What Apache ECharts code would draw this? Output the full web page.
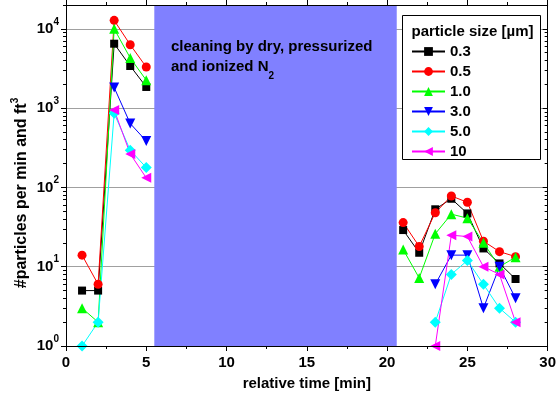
<!DOCTYPE html>
<html><head><meta charset="utf-8">
<script src="https://cdn.jsdelivr.net/npm/echarts@6/dist/echarts.min.js"></script>
<style>html,body{margin:0;padding:0;background:#fff}#c{width:559px;height:403px}</style>
</head><body><div id="c"></div>
<script>
// ---- data ----
const timesLeft = [1, 2, 3, 4, 5];
const timesRight = [21, 22, 23, 24, 25, 26, 27, 28];
const sizeNames = ['0.3', '0.5', '1.0', '3.0', '5.0', '10'];
const size03Left = [5, 5, 6500, 3400, 1850];
const size03Right = [29, 15, 53, 72, 47, 17, 11, 7];
const size05Left = [14, 6, 12800, 6300, 3300];
const size05Right = [36, 18, 48, 78, 65, 21, 15.5, 13.4];
const size10Left = [3, 2, 10000, 4300, 2250];
const size10Right = [16.5, 7.2, 26, 46, 41, 20, 10, 13.2];
const size30Left = [null, null, 1820, 640, 385];
const size30Right = [null, null, 6, 14, 14, 3, 10, 4];
const size50Left = [1, 2, 860, 295, 178];
const size50Right = [null, null, 2, 8, 12, 6, 3, 2];
const size100Left = [null, null, 950, 265, 132];
const size100Right = [null, null, 1, 25, 24, 10, 8, 2];
const cleaningWindow = [5.5, 20.6];
const xRange = [0, 30];
const xInterval = 5;
const yRange = [1, 20000];
const yMajorTicks = [1, 10, 100, 1000, 10000];
const yMinorFactors = [2, 3, 4, 5, 6, 7, 8, 9];
const legendTitle = 'particle size [\u00B5m]';
const noteLine1 = 'cleaning by dry, pressurized';
const noteLine2 = 'and ionized N';
const noteSub = '2';
const xTitle = 'relative time [min]';
const yTitle = '#particles per min and ft';
const yTitleSup = '3';

// ---- styles ----
const FONT = '"Liberation Sans", Arial, sans-serif';
const seriesStyles = [
  {color: '#000000', symbol: 'rect', size: 8, rotate: 0},
  {color: '#FF0000', symbol: 'circle', size: 9, rotate: 0},
  {color: '#00FF00', symbol: 'triangle', size: 10, rotate: 0},
  {color: '#0000FF', symbol: 'triangle', size: 10, rotate: 180},
  {color: '#00FFFF', symbol: 'diamond', size: 11, rotate: 0},
  {color: '#FF00FF', symbol: 'triangle', size: 10, rotate: 90}
];
const leftSets = [size03Left, size05Left, size10Left, size30Left, size50Left, size100Left];
const rightSets = [size03Right, size05Right, size10Right, size30Right, size50Right, size100Right];

const yMinorTicks = [];
yMajorTicks.forEach(d => yMinorFactors.forEach(k => { if (k * d <= yRange[1]) yMinorTicks.push(k * d); }));

function buildData(L, R) {
  const out = timesLeft.map((t, i) => [t, L[i]]);
  out.push([(timesLeft[timesLeft.length - 1] + timesRight[0]) / 2, null]);
  timesRight.forEach((t, i) => out.push([t, R[i]]));
  return out;
}

const series = sizeNames.map((name, i) => {
  const st = seriesStyles[i];
  return {
    name: name,
    type: 'line',
    data: buildData(leftSets[i], rightSets[i]),
    connectNulls: false,
    symbol: st.symbol,
    symbolSize: st.size,
    symbolRotate: st.rotate,
    showAllSymbol: true,
    lineStyle: {color: st.color, width: 1},
    itemStyle: {color: st.color},
    z: 3
  };
});
series.unshift({
  name: 'band',
  type: 'line',
  data: [],
  z: 1,
  markArea: {
    silent: true,
    itemStyle: {color: '#8080FF', opacity: 1},
    data: [[{xAxis: cleaningWindow[0]}, {xAxis: cleaningWindow[1]}]]
  }
});

const axisLineStyle = {show: true, lineStyle: {color: '#000', width: 1}};
const labelRich = {
  b: {fontSize: 15, fontWeight: 'bold', fontFamily: FONT, color: '#000'},
  s: {fontSize: 10, fontWeight: 'bold', fontFamily: FONT, color: '#000', padding: [0, 0, 14, 0]}
};

function yAx(opts) {
  return Object.assign({
    type: 'log', logBase: 10, min: yRange[0], max: yRange[1],
    gridIndex: 0, splitLine: {show: false}, axisLabel: {show: false},
    axisLine: {show: false}, axisTick: {show: false}
  }, opts);
}

const option = {
  animation: false,
  backgroundColor: '#fff',
  grid: {left: 66, right: 9, top: 5, bottom: 57, containLabel: false},
  xAxis: [
    {
      type: 'value', min: xRange[0], max: xRange[1], interval: xInterval, position: 'bottom', z: 5,
      axisLine: axisLineStyle,
      axisTick: {show: true, inside: false, length: 5, lineStyle: {color: '#000'}},
      minorTick: {show: true, splitNumber: 2, length: 3, lineStyle: {color: '#000'}},
      splitLine: {show: false},
      axisLabel: {margin: 9, fontSize: 15, fontWeight: 'bold', fontFamily: FONT, color: '#000'},
      name: xTitle, nameLocation: 'middle', nameGap: 30,
      nameTextStyle: {fontSize: 15, fontWeight: 'bold', fontFamily: FONT, color: '#000'}
    },
    {
      type: 'value', min: xRange[0], max: xRange[1], interval: xInterval, position: 'top', z: 5,
      axisLine: axisLineStyle,
      axisTick: {show: true, inside: false, length: 5, lineStyle: {color: '#000'}},
      minorTick: {show: true, splitNumber: 2, length: 3, lineStyle: {color: '#000'}},
      splitLine: {show: false},
      axisLabel: {show: false}
    }
  ],
  yAxis: [
    yAx({
      position: 'left', z: 5,
      axisLine: axisLineStyle,
      axisTick: {show: true, inside: false, length: 5, customValues: yMajorTicks, lineStyle: {color: '#000'}},
      axisLabel: {
        show: true, margin: 7, customValues: yMajorTicks,
        formatter: v => '{b|10}{s|' + Math.round(Math.log10(v)) + '}',
        rich: labelRich
      }
    }),
    yAx({
      position: 'left',
      axisTick: {show: true, inside: false, length: 3, customValues: yMinorTicks, lineStyle: {color: '#000'}}
    }),
    yAx({
      position: 'right', z: 5,
      axisLine: axisLineStyle,
      axisTick: {show: true, inside: true, length: 5, customValues: yMajorTicks, lineStyle: {color: '#000'}}
    }),
    yAx({
      position: 'right',
      axisTick: {show: true, inside: true, length: 3, customValues: yMinorTicks, lineStyle: {color: '#000'}}
    }),
    yAx({
      position: 'left', z: 0,
      axisTick: {show: false, customValues: yMajorTicks},
      splitLine: {show: true, lineStyle: {color: '#A0A0A0', width: 1}}
    })
  ],
  legend: {
    data: sizeNames,
    orient: 'vertical',
    left: 411, top: 44,
    padding: 0,
    itemWidth: 33, itemHeight: 11, itemGap: 5,
    z: 10,
    textStyle: {fontSize: 15, fontWeight: 'bold', fontFamily: FONT, color: '#000', lineHeight: 15}
  },
  graphic: [
    {type: 'rect', z: 8, shape: {x: 402.5, y: 15.5, width: 138, height: 144},
     style: {fill: '#fff', stroke: '#000', lineWidth: 1}},
    {type: 'text', z: 12, x: 411.5, y: 31.7,
     style: {text: legendTitle, fontSize: 15, fontWeight: 'bold', fontFamily: FONT, fill: '#000', verticalAlign: 'middle'}},
    {type: 'text', z: 12, x: 171, y: 47,
     style: {text: noteLine1, fontSize: 15, fontWeight: 'bold', fontFamily: FONT, fill: '#000', verticalAlign: 'middle'}},
    {type: 'text', z: 12, x: 171, y: 67,
     style: {text: '{m|' + noteLine2 + '}{u|' + noteSub + '}', verticalAlign: 'middle',
       rich: {m: {fontSize: 15, fontWeight: 'bold', fontFamily: FONT, fill: '#000'},
              u: {fontSize: 10, fontWeight: 'bold', fontFamily: FONT, fill: '#000', padding: [18, 0, 0, 0]}}}},
    {type: 'text', z: 12, x: 22, y: 193, rotation: Math.PI / 2,
     style: {text: '{m|' + yTitle + '}{u|' + yTitleSup + '}', align: 'center', verticalAlign: 'middle',
       rich: {m: {fontSize: 16, fontWeight: 'bold', fontFamily: FONT, fill: '#000'},
              u: {fontSize: 10, fontWeight: 'bold', fontFamily: FONT, fill: '#000', padding: [0, 0, 14, 0]}}}}
  ],
  series: series
};

const chart = echarts.init(document.getElementById('c'), null, {renderer: 'canvas'});
chart.setOption(option);
</script>
</body></html>
